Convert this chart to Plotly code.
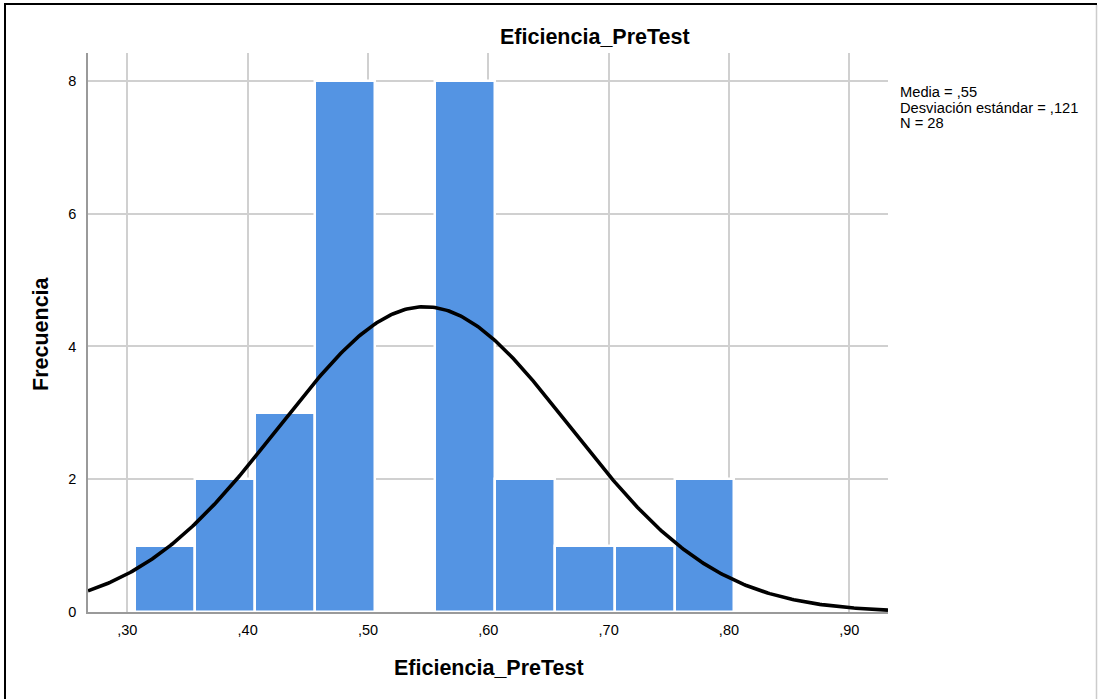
import numpy as np
import plotly.graph_objects as go

# ---- data ----
bin_start = 0.3066
bin_width = 0.0498
counts = [1, 2, 3, 8, 0, 8, 2, 1, 1, 2]
stat_mean = 0.547      # shown as ",55"
stat_sd = 0.121
stat_n = 28
x_tickvals = [0.30, 0.40, 0.50, 0.60, 0.70, 0.80, 0.90]
x_ticktext = [",30", ",40", ",50", ",60", ",70", ",80", ",90"]
y_tickvals = [0, 2, 4, 6, 8]
title_text = "Eficiencia_PreTest"
x_title = "Eficiencia_PreTest"
y_title = "Frecuencia"
stats_lines = ["Media = ,55", "Desviación estándar = ,121", "N = 28"]

W, H = 1098, 699
ML, MR, MT, MB = 88, 210, 53, 87
x_range = [0.2673, 0.9322]
y_range = [0, 8.42]

centers = [bin_start + bin_width * (i + 0.5) for i in range(len(counts))]

# normal curve defined by the chart's own statistics
xc = np.linspace(x_range[0], x_range[1], 400)
yc = stat_n * bin_width / (stat_sd * np.sqrt(2 * np.pi)) * np.exp(-0.5 * ((xc - stat_mean) / stat_sd) ** 2)

FONT = "Arial, 'Liberation Sans', sans-serif"

fig = go.Figure()
fig.add_trace(go.Bar(
    x=centers, y=counts, width=bin_width,
    marker=dict(color="#5494E3", line=dict(color="white", width=2.5)),
    hoverinfo="skip", showlegend=False,
))
fig.add_trace(go.Scatter(
    x=xc, y=yc, mode="lines",
    line=dict(color="black", width=3.6),
    hoverinfo="skip", showlegend=False, cliponaxis=False,
))

pw = W - ML - MR
ph = H - MT - MB

def px_x(p):
    return (p - ML) / pw

def px_y(p):
    return 1 - (p - MT) / ph

annotations = [
    dict(text="<b>" + title_text + "</b>", x=px_x(595), y=px_y(37), xref="paper", yref="paper",
         showarrow=False, font=dict(size=21.5, color="black", family=FONT), xanchor="center", yanchor="middle"),
    dict(text="<b>" + x_title + "</b>", x=px_x(489), y=px_y(668), xref="paper", yref="paper",
         showarrow=False, font=dict(size=21.5, color="black", family=FONT), xanchor="center", yanchor="middle"),
    dict(text="<b>" + y_title + "</b>", x=px_x(41), y=px_y(334), xref="paper", yref="paper",
         showarrow=False, textangle=-90, font=dict(size=21.5, color="black", family=FONT),
         xanchor="center", yanchor="middle"),
]
for i, line in enumerate(stats_lines):
    annotations.append(dict(text=line, x=px_x(898), y=px_y(92 + 15.5 * i), xref="paper", yref="paper",
                            showarrow=False, align="left", font=dict(size=14.7, color="black", family=FONT),
                            xanchor="left", yanchor="middle"))

shapes = [
    # outer frame
    dict(type="line", xref="paper", yref="paper", x0=px_x(5), x1=px_x(5), y0=px_y(3), y1=px_y(H + 5),
         line=dict(color="black", width=2)),
    dict(type="line", xref="paper", yref="paper", x0=px_x(4), x1=px_x(1097), y0=px_y(4), y1=px_y(4),
         line=dict(color="black", width=2)),
    dict(type="line", xref="paper", yref="paper", x0=px_x(1096.5), x1=px_x(1096.5), y0=px_y(5), y1=px_y(H + 5),
         line=dict(color="#cccccc", width=1.5)),
]

fig.update_layout(
    width=W, height=H,
    margin=dict(l=ML, r=MR, t=MT, b=MB, pad=0),
    paper_bgcolor="white", plot_bgcolor="white",
    bargap=0,
    font=dict(family=FONT, size=14.5, color="black"),
    annotations=annotations,
    shapes=shapes,
    xaxis=dict(range=x_range, tickvals=x_tickvals, ticktext=x_ticktext,
               showgrid=True, gridcolor="#d0d0d0", gridwidth=1.5,
               showline=True, linecolor="#9a9a9a", linewidth=1.5,
               zeroline=False, ticks="", ticklabelstandoff=4,
               tickfont=dict(size=14.5, color="black", family=FONT), fixedrange=True),
    yaxis=dict(range=y_range, tickvals=y_tickvals,
               showgrid=True, gridcolor="#d0d0d0", gridwidth=1.5,
               showline=True, linecolor="#9a9a9a", linewidth=1.5,
               zeroline=False, ticks="", ticklabelstandoff=7,
               tickfont=dict(size=14.5, color="black", family=FONT), fixedrange=True),
)

fig.write_html("out.html", config={"displayModeBar": False},
               post_script="document.body.style.margin='0';")
